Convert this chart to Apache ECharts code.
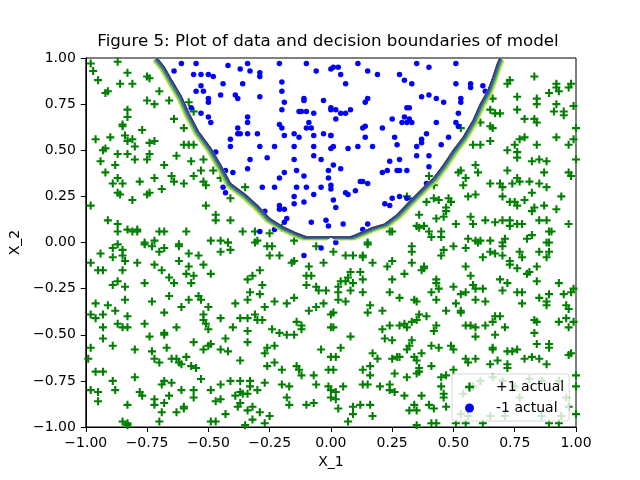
<!DOCTYPE html>
<html>
<head>
<meta charset="utf-8">
<script src="https://cdn.jsdelivr.net/npm/echarts@6/dist/echarts.min.js"></script>
<style>
  html, body { margin: 0; padding: 0; background: #fff; }
  #chart { width: 640px; height: 480px; }
</style>
</head>
<body>
<div id="chart"></div>
<script>
// points, [X_1, X_2]
var plusPoints = [
  [-0.98,0.97],[-0.97,0.93],[-0.87,0.98],[-0.95,0.88],[-0.83,0.92],[-0.75,0.90],[-0.74,0.89],[-0.86,0.86],
  [-0.81,0.86],[-0.92,0.81],[-0.91,0.82],[-0.70,0.82],[-0.75,0.77],[-0.72,0.75],[-0.66,0.77],[-0.58,0.76],
  [-0.83,0.72],[-0.83,0.68],[-0.56,0.71],[-0.64,0.67],[-0.85,0.64],[-0.85,0.63],[-0.60,0.62],[-0.77,0.61],
  [-0.96,0.56],[-0.90,0.57],[-0.84,0.58],[-0.83,0.55],[-0.81,0.56],[-0.74,0.54],[-0.72,0.55],[-0.80,0.52],
  [-0.92,0.51],[-0.93,0.50],[-0.87,0.48],[-0.83,0.48],[-0.74,0.48],[-0.60,0.53],[-0.58,0.53],[-0.56,0.53],
  [-0.63,0.47],[-0.80,0.45],[-0.75,0.45],[-0.94,0.44],[-0.57,0.44],[-0.52,0.45],[-0.88,0.42],[-0.68,0.42],
  [-0.92,0.38],[-0.53,0.39],[-0.48,0.39],[-0.87,0.35],[-0.72,0.35],[-0.65,0.36],[-0.64,0.33],[-0.56,0.36],
  [-0.89,0.32],[-0.85,0.32],[-0.78,0.33],[-0.60,0.32],[-0.52,0.33],[-0.51,0.31],[-0.45,0.35],[-0.87,0.27],
  [-0.86,0.26],[-0.75,0.26],[-0.74,0.27],[-0.69,0.29],[-0.81,0.23],[-0.98,0.20],[-0.35,0.30],[-0.41,0.24],
  [-0.51,0.20],[-0.47,0.15],[-0.47,0.12],[-0.41,0.12],[-0.91,0.12],[-0.87,0.10],[-0.87,0.06],[-0.83,0.07],
  [-0.81,0.06],[-0.79,0.06],[-0.79,0.07],[-0.70,0.06],[-0.68,0.06],[-0.59,0.06],[-0.36,0.06],[-0.31,0.06],
  [-0.30,0.01],[-0.25,0.05],[-0.72,0.01],[-0.76,-0.01],[-0.62,-0.02],[-0.49,0.01],[-0.45,0.01],[-0.42,0.00],
  [-0.15,0.01],[-0.20,0.08],
  [0.83,0.90],[0.73,0.88],[0.72,0.86],[0.92,0.86],[0.92,0.84],[0.98,0.86],[0.97,0.84],[0.89,0.81],
  [0.93,0.82],[0.66,0.78],[0.76,0.79],[0.84,0.78],[0.84,0.75],[0.92,0.75],[0.91,0.71],[0.95,0.71],
  [0.95,0.69],[0.99,0.74],[0.65,0.72],[0.67,0.70],[0.69,0.70],[0.76,0.72],[0.79,0.67],[0.83,0.67],
  [0.84,0.65],[0.61,0.65],[0.65,0.63],[0.66,0.62],[0.53,0.62],[1.00,0.62],[0.77,0.56],[0.79,0.57],
  [0.92,0.57],[0.99,0.56],[0.58,0.53],[0.61,0.53],[0.65,0.55],[0.72,0.50],[0.75,0.53],[0.76,0.49],
  [0.76,0.46],[0.84,0.53],[0.97,0.53],[1.00,0.45],[0.59,0.42],[0.82,0.44],[0.85,0.45],[0.88,0.44],
  [0.52,0.38],[0.53,0.39],[0.72,0.39],[0.60,0.38],[0.87,0.38],[0.97,0.38],[0.98,0.36],[0.40,0.36],
  [0.55,0.35],[0.54,0.31],[0.76,0.35],[0.77,0.33],[0.74,0.32],[0.81,0.33],[0.65,0.32],[0.69,0.32],
  [0.70,0.30],[0.85,0.32],[0.88,0.30],[0.82,0.27],[0.42,0.31],[0.31,0.25],[0.42,0.24],[0.44,0.23],
  [0.39,0.22],[0.48,0.24],[0.49,0.22],[0.56,0.25],[0.59,0.26],[0.70,0.25],[0.73,0.22],[0.75,0.22],
  [0.76,0.20],[0.79,0.23],[0.94,0.25],[0.47,0.19],[0.47,0.17],[0.83,0.19],[0.87,0.20],[0.92,0.18],
  [0.82,0.17],[0.36,0.15],[0.46,0.14],[0.43,0.13],[0.57,0.14],[0.63,0.12],[0.67,0.11],[0.70,0.12],
  [0.73,0.12],[0.78,0.10],[0.85,0.12],[0.88,0.12],[0.51,0.10],[0.58,0.10],[0.35,0.09],[0.36,0.08],
  [0.38,0.09],[0.73,0.09],[0.76,0.10],[0.97,0.10],[0.25,0.06],[0.24,0.06],[0.40,0.06],[0.45,0.06],
  [0.41,0.03],[0.45,0.03],[0.56,0.02],[0.61,0.01],[0.60,0.00],[0.65,0.01],[0.71,0.02],[0.80,0.02],
  [0.82,0.04],[0.89,0.06],[0.90,0.06],[0.88,0.00],[0.15,-0.01],
  [-0.94,-0.06],[-0.89,-0.03],[-0.89,-0.08],[-0.87,-0.01],[-0.85,-0.04],[-0.85,-0.07],[-0.84,-0.10],[-0.76,0.00],
  [-0.73,-0.02],[-0.70,-0.05],[-0.68,-0.03],[-0.62,-0.01],[-0.58,-0.06],[-0.54,-0.07],[-0.45,-0.05],[-0.41,-0.04],
  [-0.42,0.00],[-0.31,0.00],[-0.26,-0.02],[-0.24,-0.02],[-0.25,-0.07],[-0.21,-0.07],[-0.06,-0.02],
  [-0.98,-0.11],[-0.95,-0.15],[-0.93,-0.15],[-0.85,-0.15],[-0.79,-0.11],[-0.72,-0.12],[-0.69,-0.15],[-0.62,-0.10],
  [-0.58,-0.13],[-0.52,-0.12],[-0.59,-0.17],[-0.56,-0.18],[-0.49,-0.17],[-0.66,-0.19],[-0.64,-0.22],[-0.57,-0.22],
  [-0.16,-0.11],[-0.15,-0.10],[-0.09,-0.13],[-0.03,-0.11],[-0.29,-0.15],[-0.32,-0.18],[-0.34,-0.20],[-0.28,-0.23],
  [-0.10,-0.18],[-0.08,-0.18],[-0.10,-0.23],[-0.06,-0.24],[-0.05,-0.26],[-0.02,-0.26],[-0.89,-0.23],[-0.87,-0.21],
  [-0.84,-0.24],[-0.76,-0.22],[-0.33,-0.27],[-0.29,-0.28],[-0.84,-0.31],[-0.66,-0.29],[-0.58,-0.31],[-0.54,-0.29],
  [-0.53,-0.31],[-0.34,-0.31],[-0.15,-0.30],[-0.18,-0.33],[-0.23,-0.32],[-0.96,-0.33],[-0.91,-0.34],[-0.88,-0.37],
  [-0.73,-0.32],[-0.61,-0.35],[-0.50,-0.35],[-0.39,-0.33],[-0.27,-0.35],[-0.09,-0.37],[-0.06,-0.35],[-0.03,-0.33],
  [-0.98,-0.39],[-0.96,-0.41],[-0.93,-0.39],[-0.83,-0.40],[-0.68,-0.38],[-0.52,-0.39],[-0.52,-0.42],[-0.51,-0.44],
  [-0.45,-0.41],[-0.37,-0.41],[-0.34,-0.41],[-0.31,-0.39],[-0.30,-0.42],[-0.28,-0.42],[-0.14,-0.43],[-0.12,-0.45],
  [-0.12,-0.47],[0.00,-0.39],[-0.87,-0.44],[-0.85,-0.46],[-0.83,-0.46],[-0.76,-0.44],[-0.93,-0.46],[-0.63,-0.46],
  [-0.50,-0.47],[-0.40,-0.46],[-0.34,-0.48],[-0.24,-0.47],[-0.21,-0.49],[-0.18,-0.50],[-0.15,-0.50],[0.00,-0.46],
  [-0.74,-0.51],[-0.68,-0.50],[-0.68,-0.49],[-0.93,-0.52],[-0.89,-0.56],[-0.98,-0.57],[-0.80,-0.58],[-0.73,-0.59],
  [-0.67,-0.57],[-0.56,-0.54],[-0.50,-0.56],[-0.49,-0.55],[-0.52,-0.58],[-0.43,-0.52],[-0.45,-0.58],[-0.42,-0.59],
  [-0.34,-0.54],[-0.26,-0.57],[-0.23,-0.56],[-0.27,-0.60],[-0.37,-0.64],[-0.04,-0.58],[0.00,-0.62],[-0.99,-0.63],
  [-0.72,-0.63],[-0.70,-0.65],[-0.65,-0.63],[-0.63,-0.63],[-0.62,-0.65],[-0.59,-0.62],[-0.61,-0.66],[-0.57,-0.67],
  [-0.55,-0.68],[-0.26,-0.67],[-0.23,-0.65],[-0.20,-0.69],[-0.14,-0.67],[-0.13,-0.69],[-0.01,-0.69],[-0.96,-0.70],
  [-0.93,-0.70],[-0.80,-0.73],[-0.53,-0.74],[-0.12,-0.72],[-0.07,-0.72],[-0.89,-0.75],[-0.88,-0.80],[-0.68,-0.75],
  [-0.69,-0.77],[-0.65,-0.76],[-0.41,-0.75],[-0.37,-0.75],[-0.33,-0.75],[-0.33,-0.78],[-0.30,-0.80],[-0.27,-0.76],
  [-0.20,-0.77],[-0.17,-0.78],[-0.06,-0.77],[-0.01,-0.78],[-0.98,-0.80],[-0.95,-0.81],[-0.95,-0.86],[-0.78,-0.81],
  [-0.77,-0.83],[-0.72,-0.85],[-0.72,-0.88],[-0.68,-0.87],[-0.66,-0.83],[-0.61,-0.80],[-0.56,-0.80],[-0.56,-0.84],
  [-0.49,-0.80],[-0.45,-0.77],[-0.47,-0.86],[-0.45,-0.85],[-0.39,-0.83],[-0.37,-0.81],[-0.36,-0.82],[-0.34,-0.82],
  [-0.37,-0.87],[-0.38,-0.89],[-0.18,-0.84],[-0.17,-0.88],[-0.10,-0.88],[-0.07,-0.87],[0.00,-0.84],[-0.83,-0.88],
  [-0.69,-0.92],[-0.63,-0.92],[-0.60,-0.89],[-0.60,-0.90],[-0.43,-0.93],[-0.34,-0.91],[-0.32,-0.89],[-0.29,-0.92],
  [-0.25,-0.94],[-0.32,-0.96],[-0.27,-0.98],[-0.85,-0.97],[-0.83,-0.98],[-0.83,-0.99],[-0.70,-0.97],[-0.49,-0.97],
  [-0.47,-0.97],[-0.35,-0.99],
  [0.15,0.00],[0.33,-0.02],[0.33,-0.05],[0.01,-0.05],[0.06,-0.07],[0.09,-0.07],[0.13,-0.07],[0.13,-0.08],
  [0.17,-0.11],[0.25,-0.10],[0.23,-0.13],[0.33,-0.11],[0.38,-0.13],[0.38,-0.14],[0.37,-0.15],[0.30,-0.17],
  [0.45,-0.07],[0.46,-0.04],[0.50,-0.02],[0.55,-0.03],[0.59,0.01],[0.62,-0.08],[0.65,-0.05],[0.67,-0.06],
  [0.70,-0.02],[0.70,-0.07],[0.73,-0.10],[0.73,-0.12],[0.76,-0.14],[0.77,-0.05],[0.78,-0.08],[0.80,-0.17],
  [0.81,-0.16],[0.84,-0.13],[0.85,-0.05],[0.88,-0.08],[0.89,-0.05],[0.89,0.00],[0.55,-0.13],[0.57,-0.18],
  [0.70,0.00],[0.08,-0.16],[0.12,-0.16],[0.07,-0.19],[0.04,-0.21],[0.03,-0.24],[0.03,-0.27],[0.06,-0.21],
  [0.08,-0.26],[0.09,-0.22],[0.13,-0.20],[0.13,-0.27],[0.25,-0.20],[0.24,-0.27],[0.43,-0.20],[0.43,-0.22],
  [0.41,-0.27],[0.44,-0.25],[0.50,-0.24],[0.58,-0.23],[0.59,-0.25],[0.62,-0.25],[0.55,-0.27],[0.53,-0.28],
  [0.69,-0.20],[0.72,-0.22],[0.70,-0.26],[0.76,-0.27],[0.78,-0.27],[0.84,-0.21],[0.93,-0.22],[0.89,-0.28],
  [0.95,-0.28],[0.98,-0.27],[0.99,-0.25],[0.03,-0.31],[0.06,-0.32],[0.28,-0.30],[0.34,-0.31],[0.35,-0.32],
  [0.43,-0.31],[0.51,-0.33],[0.59,-0.31],[0.63,-0.32],[0.78,-0.33],[0.85,-0.30],[0.88,-0.32],[0.88,-0.34],
  [0.96,-0.34],[0.97,-0.36],[0.16,-0.34],[0.15,-0.38],[0.21,-0.37],[0.01,-0.38],[0.47,-0.37],[0.53,-0.37],
  [0.53,-0.38],[0.36,-0.39],[0.39,-0.40],[0.33,-0.43],[0.30,-0.44],[0.28,-0.45],[0.31,-0.46],[0.35,-0.42],
  [0.24,-0.45],[0.21,-0.47],[0.43,-0.45],[0.42,-0.48],[0.55,-0.45],[0.57,-0.45],[0.59,-0.46],[0.59,-0.51],
  [0.63,-0.45],[0.66,-0.43],[0.67,-0.40],[0.69,-0.40],[0.71,-0.46],[0.67,-0.50],[0.83,-0.42],[0.84,-0.43],
  [0.83,-0.49],[0.93,-0.43],[0.96,-0.41],[0.97,-0.46],[0.99,-0.43],[0.01,-0.46],[0.08,-0.51],[0.22,-0.52],
  [0.25,-0.53],[0.33,-0.53],[0.32,-0.56],[0.31,-0.58],[0.41,-0.56],[0.44,-0.57],[0.49,-0.56],[0.50,-0.58],
  [0.66,-0.57],[0.66,-0.58],[0.72,-0.59],[0.74,-0.59],[0.76,-0.58],[0.84,-0.55],[0.89,-0.55],[0.89,-0.57],
  [0.97,-0.61],[0.98,-0.60],[0.04,-0.57],[0.02,-0.62],[0.17,-0.60],[0.19,-0.63],[0.16,-0.67],[0.13,-0.69],
  [0.25,-0.63],[0.27,-0.62],[0.28,-0.62],[0.34,-0.62],[0.35,-0.64],[0.37,-0.60],[0.41,-0.67],[0.36,-0.68],
  [0.35,-0.71],[0.36,-0.70],[0.26,-0.71],[0.31,-0.73],[0.16,-0.72],[0.55,-0.63],[0.56,-0.65],[0.59,-0.63],
  [0.65,-0.66],[0.68,-0.64],[0.72,-0.66],[0.72,-0.68],[0.79,-0.63],[0.82,-0.62],[0.85,-0.63],[0.88,-0.66],
  [0.50,-0.69],[0.45,-0.73],[0.47,-0.72],[0.01,-0.69],[0.00,-0.80],[0.02,-0.81],[0.05,-0.78],[0.02,-0.85],
  [0.03,-0.90],[0.13,-0.77],[0.15,-0.77],[0.20,-0.78],[0.24,-0.77],[0.24,-0.80],[0.26,-0.81],[0.30,-0.83],
  [0.37,-0.83],[0.45,-0.78],[0.46,-0.82],[0.46,-0.84],[0.09,-0.89],[0.09,-0.93],[0.12,-0.88],[0.16,-0.88],
  [0.17,-0.94],[0.32,-0.91],[0.34,-0.88],[0.35,-0.91],[0.40,-0.88],[0.42,-0.90],[0.47,-0.89],[0.07,-0.97],
  [0.35,-0.99],[0.41,-0.98],[0.43,-0.98],[0.51,-0.98],[0.55,-0.98],[0.62,-0.98],[1.00,-0.72],[1.00,-0.78],
  [1.00,-0.93],[0.58,-0.78],[0.61,-0.75],[0.66,-0.73],[0.70,-0.75],[0.75,-0.78],[0.77,-0.84],[0.81,-0.74],
  [0.86,-0.75],[0.93,-0.75],[0.96,-0.84],[0.97,-0.89],[0.94,-0.94],[0.86,-0.94],[0.71,-0.94],[0.65,-0.94],
  [0.56,-0.94],[0.54,-0.82],[0.53,-0.93],[0.89,-0.98],[0.93,-0.98]
];

var dotPoints = [
  [-0.61,0.97],[-0.55,0.97],[-0.64,0.93],[-0.56,0.91],[-0.53,0.91],[-0.50,0.91],[-0.48,0.90],[-0.42,0.96],
  [-0.37,0.94],[-0.34,0.97],[-0.33,0.93],[-0.29,0.92],[-0.29,0.90],[-0.21,0.97],[-0.10,0.97],[-0.06,0.93],
  [0.00,0.94],[-0.53,0.85],[-0.44,0.86],[-0.36,0.86],[-0.20,0.87],[-0.55,0.82],[-0.52,0.82],[-0.45,0.80],
  [-0.39,0.80],[-0.38,0.78],[-0.50,0.78],[-0.50,0.76],[-0.29,0.79],[-0.20,0.82],[-0.19,0.76],[-0.11,0.78],
  [-0.11,0.77],[-0.03,0.77],[-0.57,0.73],[-0.20,0.72],[-0.13,0.71],[-0.12,0.71],[-0.10,0.71],[-0.07,0.70],
  [0.00,0.72],[-0.53,0.70],[-0.50,0.68],[-0.49,0.65],[-0.34,0.68],[-0.34,0.65],[-0.38,0.62],[-0.38,0.59],
  [-0.37,0.59],[-0.34,0.59],[-0.30,0.59],[-0.21,0.64],[-0.20,0.62],[-0.19,0.58],[-0.15,0.59],[-0.13,0.57],
  [-0.10,0.62],[-0.09,0.65],[-0.08,0.62],[-0.07,0.58],[-0.03,0.59],[0.00,0.58],[-0.41,0.56],[-0.41,0.52],
  [-0.29,0.52],[-0.23,0.52],[-0.15,0.52],[-0.07,0.52],[0.00,0.51],[-0.47,0.49],[-0.33,0.45],[-0.26,0.46],
  [-0.15,0.45],[-0.07,0.47],[-0.04,0.45],[-0.34,0.40],[-0.43,0.39],[-0.40,0.38],[-0.19,0.38],[-0.14,0.39],
  [-0.01,0.39],[-0.01,0.35],[-0.21,0.35],[-0.11,0.36],[-0.44,0.30],[-0.43,0.27],[-0.28,0.30],[-0.23,0.30],
  [-0.14,0.30],[-0.10,0.30],[-0.07,0.26],[-0.04,0.30],[0.00,0.31],[-0.15,0.25],[-0.15,0.21],[-0.11,0.22],
  [-0.21,0.20],[-0.21,0.18],[-0.19,0.18],[-0.27,0.17],[-0.18,0.13],[-0.19,0.11],[-0.08,0.11],[-0.02,0.12],
  [-0.01,0.09],[-0.23,0.07],[-0.29,0.06],
  [0.01,0.95],[0.03,0.95],[0.04,0.91],[0.11,0.97],[0.15,0.93],[0.19,0.91],[0.28,0.91],[0.30,0.88],
  [0.33,0.86],[0.35,0.97],[0.40,0.95],[0.51,0.97],[0.06,0.86],[0.51,0.86],[0.57,0.86],[0.57,0.84],
  [0.62,0.85],[0.63,0.82],[0.37,0.79],[0.40,0.80],[0.43,0.78],[0.46,0.76],[0.53,0.78],[0.53,0.76],
  [0.15,0.78],[0.14,0.76],[0.00,0.73],[0.02,0.72],[0.04,0.70],[0.06,0.70],[0.08,0.72],[0.02,0.67],
  [0.31,0.73],[0.32,0.73],[0.25,0.67],[0.30,0.68],[0.32,0.67],[0.33,0.65],[0.31,0.65],[0.29,0.65],
  [0.43,0.65],[0.52,0.70],[0.51,0.65],[0.52,0.63],[0.14,0.63],[0.13,0.62],[0.21,0.62],[0.00,0.58],
  [0.14,0.57],[0.26,0.57],[0.27,0.53],[0.37,0.56],[0.37,0.54],[0.39,0.59],[0.48,0.57],[0.45,0.53],
  [0.01,0.52],[0.07,0.51],[0.11,0.52],[0.17,0.52],[0.35,0.52],[0.35,0.47],[0.40,0.47],[0.28,0.45],
  [0.24,0.44],[0.01,0.42],[0.40,0.41],[0.23,0.39],[0.21,0.38],[0.27,0.39],[0.28,0.39],[0.31,0.39],
  [0.04,0.40],[0.00,0.29],[0.12,0.33],[0.13,0.33],[0.15,0.32],[0.10,0.28],[0.06,0.27],[0.07,0.26],
  [0.01,0.23],[0.02,0.19],[0.22,0.21],[0.24,0.20],[0.25,0.24],[0.28,0.25],[0.31,0.24],[0.33,0.23],
  [0.39,0.32],[0.05,0.10],[0.15,0.10],[0.13,0.07],
  [0.02,0.00],[-0.11,-0.07],[-0.04,-0.03]
];

// traced decision boundary of the model
var boundaryX = [-0.71,-0.68,-0.65,-0.61,-0.58,-0.54,-0.49,-0.45,-0.41,-0.35,-0.30,-0.25,-0.19,-0.14,-0.10,0.00,0.08,0.10,0.17,0.22,0.27,0.32,0.38,0.42,0.46,0.50,0.54,0.58,0.61,0.64,0.66,0.68,0.69];
var boundaryY = [1.00,0.95,0.88,0.79,0.70,0.60,0.51,0.42,0.32,0.26,0.20,0.13,0.08,0.05,0.03,0.03,0.03,0.04,0.08,0.10,0.15,0.22,0.30,0.35,0.42,0.50,0.57,0.66,0.75,0.82,0.89,0.97,1.00];

var tickFont = 'DejaVu Sans';
var plusIcon = 'path://M3.7,0H6.3V3.7H10V6.3H6.3V10H3.7V6.3H0V3.7H3.7Z';

var boundary = boundaryX.map(function (x, i) { return [x, boundaryY[i]]; });
var leftBranch = boundary.filter(function (p) { return p[0] <= 0; });
var rightBranch = boundary.filter(function (p) { return p[0] >= 0; });

// contour levels as stacked strokes, outermost level first
var levels = [
  { color: '#c5e03a', off: 4.6, width: 1.8 },
  { color: '#6cc45a', off: 3.4, width: 1.4 },
  { color: '#26908c', off: 2.3, width: 1.4 },
  { color: '#3d5a8e', off: 1.3, width: 1.4 },
  { color: '#472d7b', off: 0, width: 1.1 }
];

function fmt(v) {
  return v.toFixed(2).replace('-', '\u2212');
}

var chart = echarts.init(document.getElementById('chart'));

var series = [
  {
    name: '+1 actual',
    type: 'scatter',
    symbol: plusIcon,
    symbolSize: 8,
    itemStyle: { color: '#008000', opacity: 1 },
    data: plusPoints,
    z: 2
  },
  {
    name: '-1 actual',
    type: 'scatter',
    symbol: 'circle',
    symbolSize: 5.5,
    itemStyle: { color: '#0000ff', opacity: 1 },
    data: dotPoints,
    z: 2
  }
];

function contour(data, dirX, lv) {
  return {
    type: 'line',
    data: data,
    showSymbol: false,
    silent: true,
    z: 3,
    lineStyle: {
      color: lv.color,
      width: lv.width,
      shadowColor: lv.off ? lv.color : 'transparent',
      shadowOffsetX: dirX * lv.off * 0.8,
      shadowOffsetY: lv.off * 0.6,
      shadowBlur: 0
    }
  };
}

levels.forEach(function (lv) {
  series.push(contour(leftBranch, -1, lv));
  series.push(contour(rightBranch, 1, lv));
});

var option = {
  animation: false,
  backgroundColor: '#fff',
  title: {
    text: 'Figure 5: Plot of data and decision boundaries of model',
    left: 328,
    top: 33,
    textAlign: 'center',
    padding: 0,
    textStyle: { fontFamily: tickFont, fontSize: 16.7, fontWeight: 'normal', color: '#000' }
  },
  legend: {
    orient: 'vertical',
    left: 452,
    top: 374,
    padding: [5, 5, 5, 13],
    itemGap: 5,
    itemWidth: 9,
    itemHeight: 9,
    backgroundColor: 'rgba(255,255,255,0.8)',
    borderColor: '#d6d6d6',
    borderWidth: 1,
    borderRadius: 3,
    textStyle: { fontFamily: tickFont, fontSize: 14, color: '#000', lineHeight: 16, padding: [0, 0, 0, 17] },
    data: [
      { name: '+1 actual', icon: plusIcon },
      { name: '-1 actual', icon: 'circle' }
    ]
  },
  grid: {
    left: 80, right: 64, top: 58, bottom: 53,
    show: true, borderColor: '#000', borderWidth: 1
  },
  xAxis: {
    type: 'value',
    min: -1, max: 1, interval: 0.25,
    name: 'X_1',
    nameLocation: 'middle',
    nameGap: 28,
    nameTextStyle: { fontFamily: tickFont, fontSize: 14, color: '#000' },
    axisLine: { show: true, onZero: false, lineStyle: { color: '#000' } },
    axisTick: { show: true, inside: false, length: 5, lineStyle: { color: '#000' } },
    axisLabel: { margin: 9, fontFamily: tickFont, fontSize: 14, color: '#000', formatter: fmt },
    splitLine: { show: false }
  },
  yAxis: {
    type: 'value',
    min: -1, max: 1, interval: 0.25,
    name: 'X_2',
    nameLocation: 'middle',
    nameGap: 58,
    nameTextStyle: { fontFamily: tickFont, fontSize: 14, color: '#000' },
    axisLine: { show: true, onZero: false, lineStyle: { color: '#000' } },
    axisTick: { show: true, inside: false, length: 5, lineStyle: { color: '#000' } },
    axisLabel: { margin: 10, fontFamily: tickFont, fontSize: 14, color: '#000', formatter: fmt },
    splitLine: { show: false }
  },
  series: series
};

chart.setOption(option);
</script>
</body>
</html>
